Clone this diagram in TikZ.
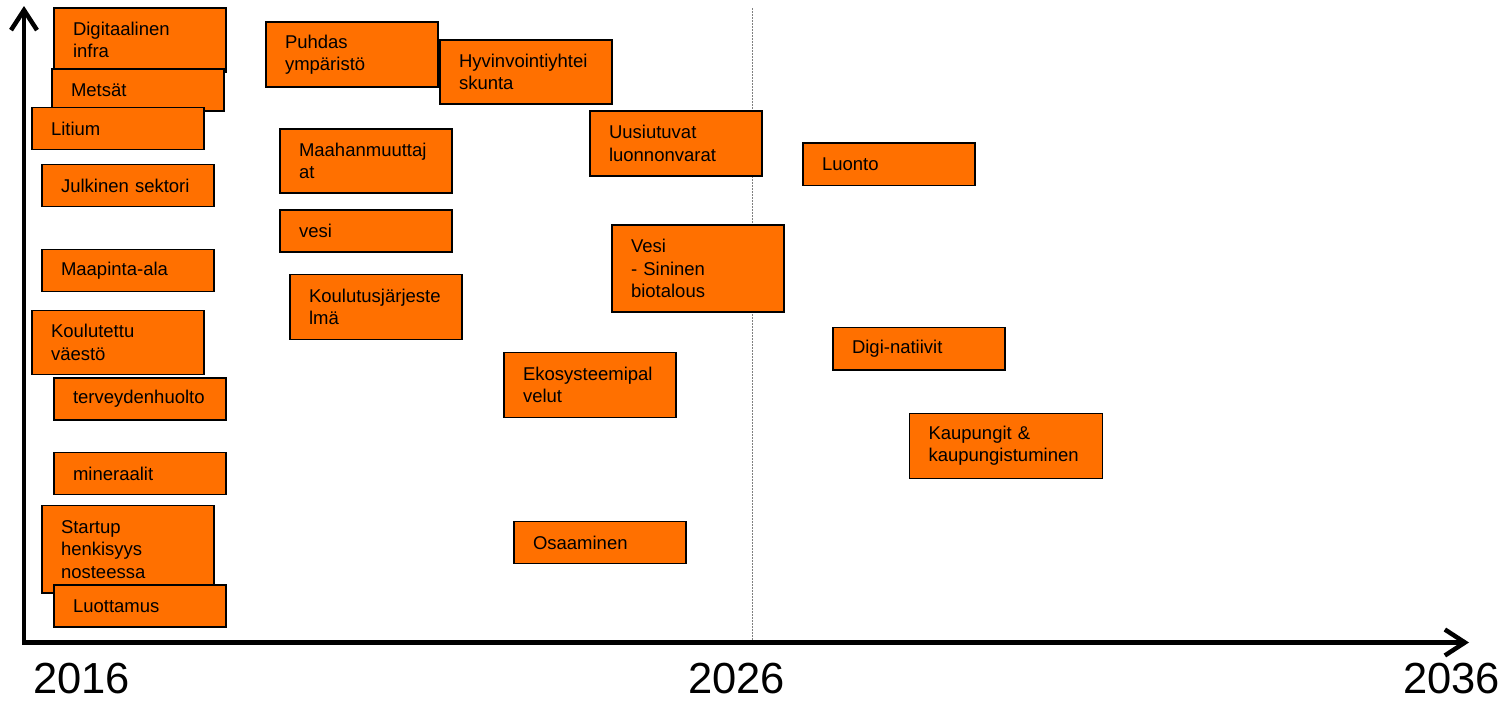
\documentclass[tikz,border=0pt]{standalone}
\usepackage{fontspec}
\setmainfont{Liberation Sans}
\usetikzlibrary{arrows.meta}
\definecolor{boxorange}{RGB}{255,112,0}
\hyphenpenalty=10000
\exhyphenpenalty=10000
\tikzset{
  box/.style={draw=black, line width=1.6pt, fill=boxorange, anchor=north west,
    inner xsep=19pt, inner ysep=0pt, outer sep=0pt, align=left,
    text width=134pt, minimum width=172pt,
    font=\fontsize{18.5}{22.5}\selectfont},
  hone/.style={minimum height=42pt},
  htwo/.style={minimum height=64pt},
  hthree/.style={minimum height=87pt},
  year/.style={anchor=base west, inner sep=0pt, font=\fontsize{43.5}{48}\selectfont},
  axis/.style={line width=4.5pt, line join=miter, {Straight Barb[length=20pt,width=26pt,line width=4.5pt]}-{Straight Barb[length=20pt,width=26pt,line width=4.5pt]}},
  midline/.style={draw=gray, line width=0.8pt, dash pattern=on 2pt off 1pt}
}
\begin{document}
\begin{tikzpicture}[x=1pt,y=-1pt]
\useasboundingbox (0,0) rectangle (1507,702);
% mid line
\coordinate (mtop) at (752,8);
\coordinate (mbot) at (752,640);
\draw[midline] (mtop) -- (mbot);
% column 1
\node[box,htwo] (digi) at (54,8) {Digitaalinen\\infra};
\node[box,hone] (metsat) at (52,69) {Metsät};
\node[box,hone] (litium) at (32,107.5) {Litium};
\node[box,hone] (julk) at (42,164.5) {Julkinen sektori};
\node[box,hone] (maap) at (42,249.5) {Maapinta-ala};
\node[box,htwo] (koul) at (32,310.5) {Koulutettu\\väestö};
\node[box,hone] (terv) at (54,378) {terveydenhuolto};
\node[box,hone] (min) at (54,452.5) {mineraalit};
\node[box,minimum height=87.5pt] (start) at (42,505.5) {Startup\\henkisyys\\nosteessa};
\node[box,hone] (luott) at (54,585) {Luottamus};
% column 2
\node[box,minimum height=65pt] (puhd) at (266,22) {Puhdas\\ympäristö};
\node[box,htwo] (hyvi) at (440,40) {Hyvinvointiyhtei\\skunta};
\node[box,htwo] (maah) at (280,129) {Maahanmuuttaj\\at};
\node[box,hone] (vesi) at (280,210) {vesi};
\node[box,minimum height=65pt] (kjarj) at (290,274.5) {Koulutusjärjeste\\lmä};
% column 3
\node[box,minimum height=65pt] (uusi) at (590,111) {Uusiutuvat\\luonnonvarat};
\node[box,hthree] (vesi2) at (612,225) {Vesi\\- Sininen\\biotalous};
\node[box,minimum height=65pt] (eko) at (504,352.5) {Ekosysteemipal\\velut};
\node[box,hone] (osaa) at (514,521.5) {Osaaminen};
% column 4
\node[box,minimum height=42.5pt] (luonto) at (803,143) {Luonto};
\node[box,minimum height=42.5pt] (digin) at (833,327.5) {Digi-natiivit};
\node[box,minimum height=65pt,text width=155pt,minimum width=193pt] (kaup) at (909.5,413.3) {Kaupungit \&\\kaupungistuminen};
% axes
\coordinate (ytip) at (24,6);
\coordinate (origin) at (24,642.5);
\coordinate (xtip) at (1469,642.5);
\draw[axis] (ytip) -- (origin) -- (xtip);
% years
\node[year] (y2016) at (33,693) {2016};
\node[year] (y2026) at (688,693) {2026};
\node[year] (y2036) at (1403,693) {2036};
\end{tikzpicture}
\end{document}
